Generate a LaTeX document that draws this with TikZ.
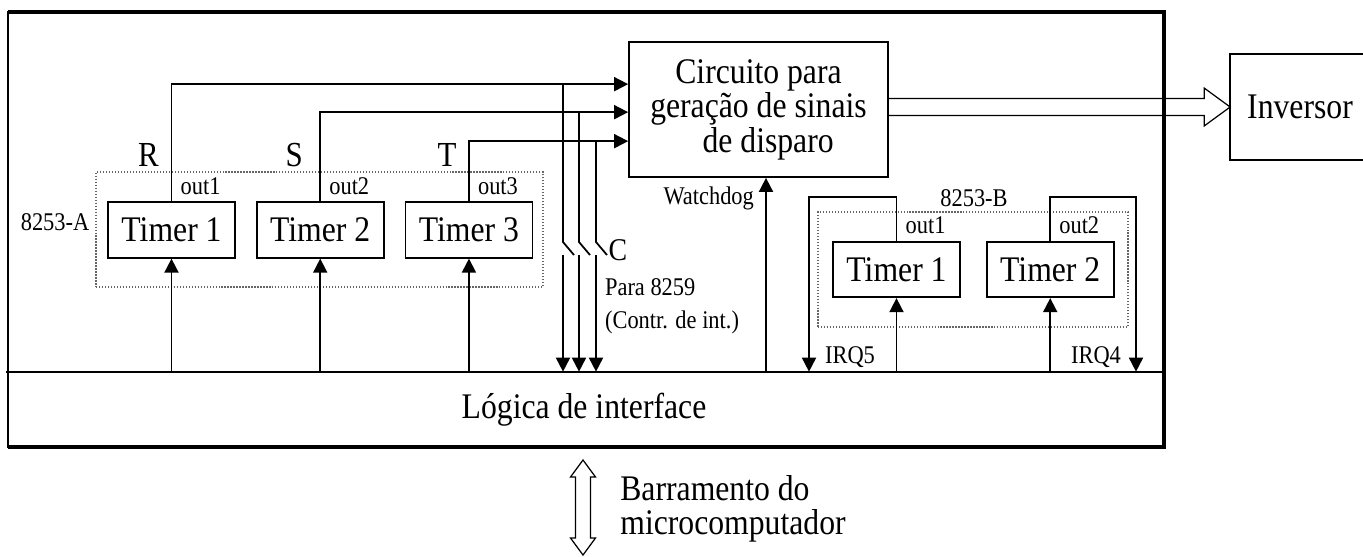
\documentclass[tikz,border=0pt]{standalone}
\usepackage{fontspec}
\setmainfont[FakeStretch=0.88]{Liberation Serif}
\usetikzlibrary{arrows.meta, positioning, calc}

\begin{document}
\begin{tikzpicture}[x=0.02cm, y=-0.02cm,
      box/.style={draw, line width=1pt, minimum width=2.54cm, minimum height=1.11cm, inner sep=0pt, font=\fontsize{20.5}{18.5}\selectfont},
      grp/.style={draw=black!60, densely dotted, line width=0.7pt, inner sep=0pt},
      lbl/.style={font=\fontsize{14.5}{18.8}\selectfont, inner sep=1pt},
      sig/.style={font=\fontsize{20}{22}\selectfont, inner sep=0pt},
      wire/.style={line width=1pt},
      arr/.style={-{Triangle[length=8pt, width=8pt]}, line width=1pt},
      frame/.style={line width=2.8pt}
    ]
      \useasboundingbox (0,0) rectangle (1363,556);

      % interface logic band
      \node[minimum width=23.12cm, minimum height=1.5cm, inner sep=0pt, font=\fontsize{20.5}{18.5}\selectfont] (logic) at (584,409.5) {Lógica de interface};
      \draw[wire] (logic.north west) -- (logic.north east);

      % 8253-A
      \node[grp, minimum width=8.94cm, minimum height=2.3cm] (ga) at (319.5,229.5) {};
      \node[lbl, anchor=east] (la) at ([shift={(-4,-7)}]ga.west) {8253-A};
      \node[box] (t1a) at (171.5,230) {Timer 1};
      \node[box, right=0.4cm of t1a] (t2a) {Timer 2};
      \node[box, right=0.4cm of t2a] (t3a) {Timer 3};

      % firing circuit
      \node[box, minimum width=5.18cm, minimum height=2.7cm, align=center] (circ) at (758.5,109.5)
        {Circuito para\\geração de sinais\\\hspace*{11pt}de disparo};
      \coordinate (inR) at ($(circ.north west)+(0,43)$);
      \coordinate (inS) at ($(circ.north west)+(0,71)$);
      \coordinate (inT) at ($(circ.north west)+(0,100)$);

      \draw[arr] (t1a.north) |- (inR);
      \draw[arr] (t2a.north) |- (inS);
      \draw[arr] (t3a.north) |- (inT);

      \foreach \t/\s/\d in {t1a/R/-23, t2a/S/-26, t3a/T/-22}
        \node[sig, anchor=base] (l-\t) at ([shift={(\d,-35)}]\t.north) {\s};

      % switches C to the 8259
      \foreach \x/\n in {563/R, 579/S, 596/T} {
        \draw[wire] (\x,0 |- in\n) -- (\x,242) -- ++(11,13);
        \draw[arr] (\x,255) -- (\x,0 |- logic.north);
      }
      \node[sig, font=\fontsize{18}{20}\selectfont] (cl) at (618,250) {C};
      \node[lbl, align=left, anchor=west] (para) at (603,306.5) {Para 8259\\(Contr. de int.)};

      % watchdog
      \coordinate (wdog) at ($(circ.south)+(7.5,0)$);
      \draw[arr] (wdog |- logic.north) -- (wdog);
      \node[lbl, anchor=base east] (wdl) at ([shift={(-10,27)}]wdog) {Watchdog};

      % 8253-B
      \node[grp, minimum width=6.2cm, minimum height=2.3cm] (gb) at (973,269.5) {};
      \node[lbl] (lb) at (974,198) {8253-B};
      \node[box] (t1b) at (896.5,269.5) {Timer 1};
      \node[box, right=0.5cm of t1b] (t2b) {Timer 2};

      \coordinate (irq5) at (809,0 |- logic.north);
      \coordinate (irq4) at (1136,0 |- logic.north);
      \draw[arr] (t1b.north) -- ++(0,-44) -| (irq5);
      \draw[arr] (t2b.north) -- ++(0,-44) -| (irq4);
      \node[lbl, anchor=base west] (l5) at ([shift={(14,-8)}]irq5) {IRQ5};
      \node[lbl, anchor=base east] (l4) at ([shift={(-13,-8)}]irq4) {IRQ4};

      \foreach \t in {t1a, t2a, t3a, t1b, t2b}
        \draw[arr] (\t.south |- logic.north) -- (\t.south);
      \foreach \t/\o in {t1a/out1, t2a/out2, t3a/out3, t1b/out1, t2b/out2}
        \node[lbl, anchor=base west] (o-\t) at ([shift={(7,-7)}]\t.north) {\o};

      % inverter (cut by the page edge) and wide arrow
      \node[box, draw=none, minimum width=3.5cm, minimum height=2.08cm] (inv) at (1318.5,107) {};
      \draw[wire] (inv.north east) -- (inv.north west) -- (inv.south west) -- (inv.south east);
      \node[font=\fontsize{20.5}{18.5}\selectfont] (invl) at (1300,107) {Inversor};
      \coordinate (ha) at ($(inv.west)+(-26,-8.5)$);
      \coordinate (hb) at ($(inv.west)+(-26,8.5)$);
      \draw[line width=0.7pt] (circ.east |- ha) -- (ha) -- ++(0,-10.5) -- (inv.west)
        -- ($(hb)+(0,10.5)$) -- (hb) -- (circ.east |- hb);

      % outer frame
      \draw[frame] (8,12) -- (1164,12) -- (1164,447) -- (8,447);
      \draw[line width=1.7pt] (8,10.6) -- (8,448.4);

      % bus to the microcomputer
      \coordinate (busT) at (583,460);
      \coordinate (busB) at (583,555);
      \draw[line width=0.7pt] (busT) -- ++(12.5,17) -- ++(-5,0) -- ++(0,61) -- ++(5,0) -- (busB)
        -- ++(-12.5,-17) -- ++(5,0) -- ++(0,-61) -- ++(-5,0) -- cycle;
      \node[align=left, anchor=west, inner sep=0pt, font=\fontsize{20.5}{19}\selectfont] (bar) at (620,509) {Barramento do\\microcomputador};
    \end{tikzpicture}
\end{document}
